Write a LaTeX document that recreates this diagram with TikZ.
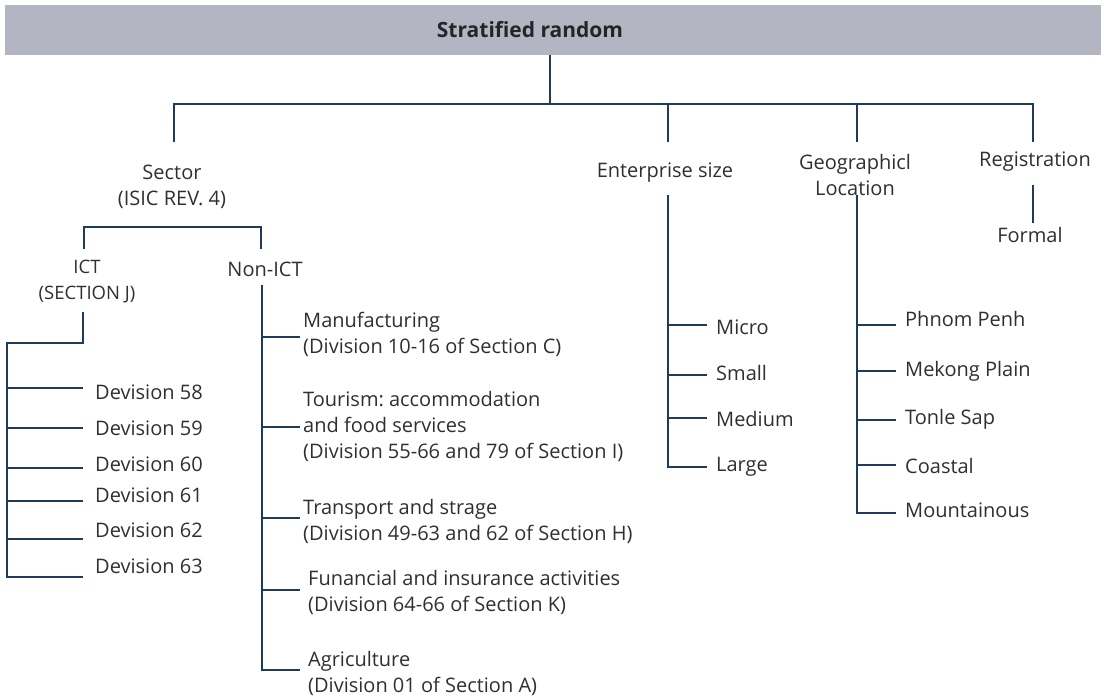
\documentclass[tikz,border=0pt]{standalone}
\usepackage{fontspec}
\setmainfont{Open Sans}
\frenchspacing
\definecolor{linec}{HTML}{1F3B5C}
\definecolor{barc}{HTML}{B3B5C3}
\definecolor{txt}{HTML}{2F2F2F}
\begin{document}
\begin{tikzpicture}[x=1pt,y=-1pt,
  conn/.style={draw=linec, line width=1.2pt},
  lbl/.style={text=txt, inner sep=0pt, font=\fontsize{20}{26}\selectfont},
  mlbl/.style={lbl, align=center},
  llbl/.style={lbl, anchor=west, align=left},
  sclbl/.style={text=txt, inner sep=0pt, align=center, font=\fontsize{18.5}{26}\selectfont}]
\useasboundingbox (0,0) rectangle (1104,699);

% header bar
\fill[barc] (5,5) rectangle (1101,55);
\node[text=txt!80!black, inner sep=0pt, font=\fontsize{21}{22}\selectfont\bfseries] (title) at (530,30) {Stratified random};

% first level
\node[mlbl] (sector) at (172,187) {Sector\\(ISIC REV. 4)};
\node[mlbl] (ent) at (665,173) {Enterprise size};
\node[mlbl] (geo) at (855,175) {Geographicl\\Location};
\node[mlbl] (reg) at (1035,162) {Registration};
\node[mlbl] (formal) at (1030,235) {Formal};

% sector split
\node[sclbl] (ict) at (87,282) {ICT\\(SECTION J)};
\node[lbl] (nonict) at (265,269) {Non-ICT};

% ICT divisions
\foreach \n/\y in {58/392,59/428,60/464,61/495,62/530,63/566}
  \node[llbl] (d\n) at (95,\y) {Devision \n};

% non-ICT sectors
\node[llbl] (manuf) at (303,334.5) {Manufacturing\\(Division 10-16 of Section C)};
\node[llbl] (tour) at (303,426) {Tourism: accommodation\\and food services\\(Division 55-66 and 79 of Section I)};
\node[llbl] (trans) at (303,521) {Transport and strage\\(Division 49-63 and 62 of Section H)};
\node[llbl] (fin) at (308,592) {Funancial and insurance activities\\(Division 64-66 of Section K)};
\node[llbl] (agri) at (308,673) {Agriculture\\(Division 01 of Section A)};

% enterprise sizes
\foreach \k/\t/\y in {mi/Micro/327,sm/Small/373,me/Medium/419,la/Large/467}
  \node[llbl] (\k) at (716,\y) {\t};

% locations
\foreach \k/\t/\y in {pp/Phnom Penh/319,mk/Mekong Plain/371,ts/Tonle Sap/419,co/Coastal/466,mo/Mountainous/510}
  \node[llbl] (\k) at (905,\y) {\t};

% junction points
\coordinate (root) at (550,55);
\coordinate (bus) at (550,104);
\coordinate (busL) at (174,104);
\coordinate (busR) at (1033,104);
\coordinate (sectorTop) at (174,142);
\coordinate (entTop) at (668,142);
\coordinate (geoTop) at (857,142);
\coordinate (regTop) at (1033,142);

% top level tree
\draw[conn] (root) -- (bus);
\draw[conn] (sectorTop) -- (busL) -- (busR) -- (regTop);
\draw[conn] (entTop) -- (entTop |- bus);
\draw[conn] (geoTop) -- (geoTop |- bus);

% sector bracket
\coordinate (brL) at (84,249);
\coordinate (brR) at (261,249);
\draw[conn] (brL) -- (84,227) -- (261,227) -- (brR);

% ICT branch
\coordinate (ictTop) at (83,312);
\coordinate (ictBend) at (83,343);
\coordinate (ictSpine) at (7,343);
\draw[conn] (ictTop) -- (ictBend) -- (ictSpine) -- (7,577) -- (83,577);
\foreach \y in {388,428,468,501,539}
  \draw[conn] (7,\y) -- (83,\y);

% non-ICT branch
\coordinate (nonTop) at (262,285);
\draw[conn] (nonTop) -- (262,670) -- (300,670);
\foreach \y in {337,427,518,590}
  \draw[conn] (262,\y) -- (300,\y);

% enterprise size branch
\coordinate (entBot) at (668,195);
\draw[conn] (entBot) -- (668,467) -- (707,467);
\foreach \y in {325,375,418}
  \draw[conn] (668,\y) -- (707,\y);

% location branch
\coordinate (geoBot) at (857,195);
\draw[conn] (geoBot) -- (857,513) -- (896,513);
\foreach \y in {325,371,420,465}
  \draw[conn] (857,\y) -- (896,\y);

% registration branch
\draw[conn] (1033,185) -- (1033,223);
\end{tikzpicture}
\end{document}
